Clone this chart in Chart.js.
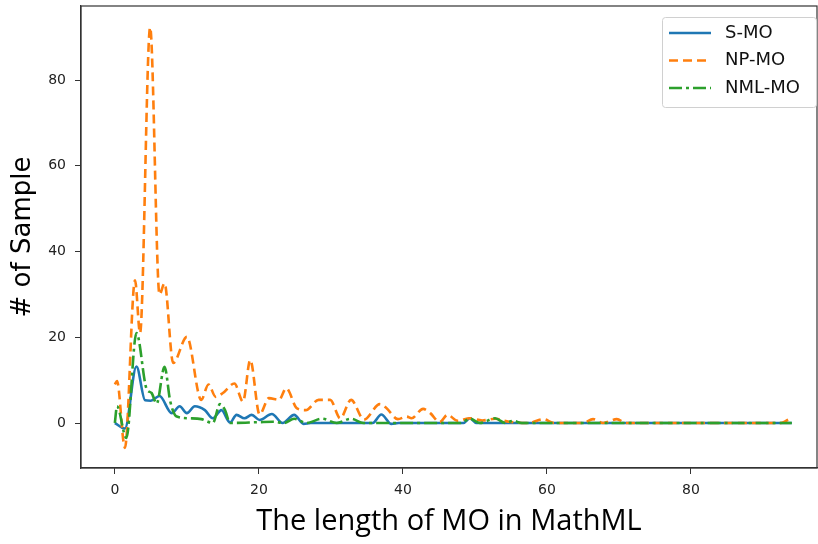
<!DOCTYPE html>
<html>
<head>
<meta charset="utf-8">
<script src="https://cdn.jsdelivr.net/npm/chart.js@4.4.1/dist/chart.umd.min.js"></script>
<style>
  html, body { margin: 0; padding: 0; background: #fff; }
  #wrap { width: 818px; height: 544px; }
</style>
</head>
<body>
<div id="wrap"><canvas id="chart" width="818" height="544"></canvas></div>
<script>
// values (x = length of MO, y = # of samples)
const smoX = [0, 1.4, 3, 4.2, 5, 6.2, 7.9, 9, 10, 11.1, 12.5, 13.6, 14.8, 16, 16.9, 18, 19, 20.1, 21.8, 23.3, 24.9, 26.2, 27.2, 35.8, 37, 38.4, 39.4, 48.4, 49.3, 50.2, 94];
const smoY = [0, -1.3, 13.2, 5.3, 5.2, 6.3, 2.3, 3.9, 2.3, 3.9, 3.0, 1.1, 3.0, 0.1, 1.9, 1.1, 1.9, 0.7, 2.1, 0, 1.9, -0.2, 0, 0, 2.0, -0.2, 0, 0, 1.1, 0, 0];

const npX = [0, 0.3, 1.4, 2.8, 3.5, 4.9, 6.2, 6.9, 8.1, 10, 12, 13, 14, 15, 16.6, 17.8, 18.8, 20.1, 21.4, 22.8, 23.8, 25.3, 26.5, 28.3, 29.9, 31.3, 32.8, 34.6, 36.8, 37.7, 39.3, 40.5, 41.2, 42.8, 43.8, 45.1, 46.2, 47.6, 49.3, 51, 52.8, 54.7, 57.5, 59.5, 61, 65, 66.4, 67.8, 69.7, 71, 92.5, 93.8, 94];
const npY = [9, 9.8, -5.8, 33.3, 21, 92.3, 30, 32.6, 14, 20.1, 5.4, 9, 6.1, 7, 9.2, 5, 14.7, 2, 5.8, 5.4, 8.1, 3.4, 3, 5.4, 5.4, 1.1, 5.4, 0.8, 4.4, 3.5, 0.9, 1.5, 1.1, 3.3, 2.3, 0.2, 1.9, 0.5, 1.1, 0.6, 1, 0.3, 0, 0.9, 0, 0, 0.9, 0, 0.9, 0, 0, 0.9, 0.5];

const nmlX = [0, 0.3, 1.6, 3, 4.4, 5.1, 5.8, 6.9, 7.7, 8.6, 10.5, 12, 13.6, 14.6, 15.3, 16, 20, 22, 23.5, 24.9, 26.6, 28.8, 30.8, 32.8, 34.5, 48, 49.3, 50.7, 52.8, 54.2, 55.3, 56.5, 94];
const nmlY = [0, 3.9, -3.5, 21, 8, 7, 4.5, 13.1, 5, 1.5, 1.1, 0.9, 0, 4.4, 3, 0, 0.2, 0.3, 0, 1, 0, 1, 0, 1, 0, 0, 1, 0, 1.1, 0, 0.5, 0, 0];

const seriesNames = ['S-MO', 'NP-MO', 'NML-MO'];
const xTicks = [0, 20, 40, 60, 80];
const yTicks = [0, 20, 40, 60, 80];

const pts = (xs, ys) => xs.map((x, i) => ({ x, y: ys[i] }));

// box around the plot area (matplotlib-style spines)
const frame = {
  id: 'frame',
  afterDatasetsDraw(chart) {
    const { ctx, chartArea: a } = chart;
    ctx.save();
    ctx.strokeStyle = '#333';
    ctx.lineWidth = 1.2;
    ctx.strokeRect(a.left, a.top, a.right - a.left, a.bottom - a.top);
    ctx.restore();
  },
};

// legend drawn inside the upper right corner
const legendBox = {
  id: 'legendBox',
  afterDraw(chart) {
    const { ctx, chartArea: a } = chart;
    const w = 154, h = 90;
    const x0 = a.right - w - 1, y0 = a.top + 11;
    ctx.save();
    ctx.fillStyle = 'rgba(255,255,255,0.85)';
    ctx.strokeStyle = '#d0d0d0';
    ctx.lineWidth = 1;
    ctx.beginPath();
    ctx.roundRect(x0 + 0.5, y0 + 0.5, w, h, 3);
    ctx.fill();
    ctx.stroke();
    ctx.font = '18px "DejaVu Sans"';
    ctx.textBaseline = 'middle';
    chart.data.datasets.forEach((ds, i) => {
      const y = y0 + 16 + i * 27.5;
      ctx.strokeStyle = ds.borderColor;
      ctx.lineWidth = ds.borderWidth;
      ctx.setLineDash(ds.borderDash || []);
      ctx.beginPath();
      ctx.moveTo(x0 + 7, y);
      ctx.lineTo(x0 + 49, y);
      ctx.stroke();
      ctx.setLineDash([]);
      ctx.fillStyle = '#111';
      ctx.fillText(ds.label, x0 + 63, y);
    });
    ctx.restore();
  },
};

const tickFont = { family: 'DejaVu Sans', size: 14 };

new Chart(document.getElementById('chart'), {
  type: 'line',
  data: {
    datasets: [
      {
        label: seriesNames[0],
        data: pts(smoX, smoY),
        borderColor: '#1f77b4',
        borderWidth: 2.6,
        order: 3,
      },
      {
        label: seriesNames[1],
        data: pts(npX, npY),
        borderColor: '#ff7f0e',
        borderWidth: 2.6,
        borderDash: [9, 5],
        order: 2,
      },
      {
        label: seriesNames[2],
        data: pts(nmlX, nmlY),
        borderColor: '#2ca02c',
        borderWidth: 2.6,
        borderDash: [13, 4, 3, 4],
        order: 1,
      },
    ],
  },
  options: {
    responsive: false,
    animation: false,
    events: [],
    layout: { padding: { top: 6, right: 1, left: 0, bottom: 0 } },
    elements: {
      point: { radius: 0 },
      line: { cubicInterpolationMode: 'monotone', fill: false },
    },
    plugins: {
      legend: { display: false },
      tooltip: { enabled: false },
    },
    scales: {
      x: {
        type: 'linear',
        min: -4.7,
        max: 97.5,
        afterBuildTicks: s => { s.ticks = xTicks.map(v => ({ value: v })); },
        afterFit: s => { s.height = 76; s.paddingLeft = 0; s.paddingRight = 0; },
        grid: { drawOnChartArea: false, drawTicks: true, tickLength: 6, color: '#333' },
        border: { display: true, color: '#333', width: 1.2 },
        ticks: { color: '#222', font: tickFont, padding: 8, maxRotation: 0 },
        title: {
          display: true,
          text: 'The length of MO in MathML',
          color: '#000',
          font: { family: 'Open Sans', size: 29 },
          padding: { top: 0, bottom: 5 },
        },
      },
      y: {
        min: -10.5,
        max: 97.3,
        afterBuildTicks: s => { s.ticks = yTicks.map(v => ({ value: v })); },
        afterFit: s => { s.width = 81; s.paddingTop = 0; s.paddingBottom = 0; },
        grid: { drawOnChartArea: false, drawTicks: true, tickLength: 6, color: '#333' },
        border: { display: true, color: '#333', width: 1.2 },
        ticks: { color: '#222', font: tickFont, padding: 9 },
        title: {
          display: true,
          text: '# of Sample',
          color: '#000',
          font: { family: 'DejaVu Sans', size: 26 },
          padding: { top: 8, bottom: 0 },
        },
      },
    },
  },
  plugins: [frame, legendBox],
});
</script>
</body>
</html>
